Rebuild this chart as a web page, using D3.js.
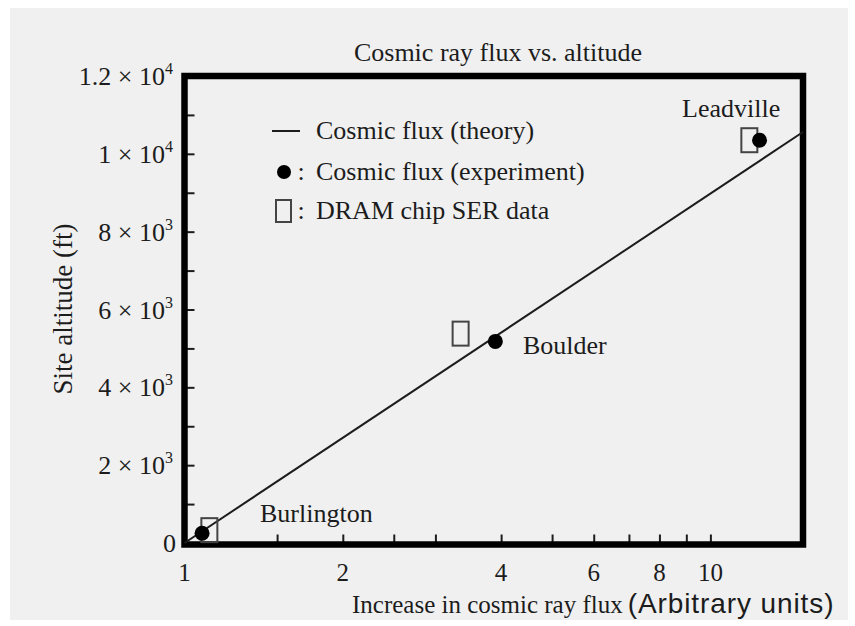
<!DOCTYPE html>
<html><head><meta charset="utf-8">
<script src="https://cdn.jsdelivr.net/npm/d3@7"></script>
<style>
body{margin:0;background:#fff;}
svg text{fill:#1c1c1c;}
</style></head>
<body><svg id="c" width="855" height="626"></svg>
<script>
// ---- data ----
const title = "Cosmic ray flux vs. altitude";
const sites = ["Burlington", "Boulder", "Leadville"];
const fluxExperiment = [1.08, 3.90, 12.4];      // filled circles (x)
const altExperiment  = [250, 5180, 10350];      // filled circles (y, ft)
const fluxDram = [1.115, 3.35, 11.86];           // open rectangles (x)
const altDram  = [330, 5380, 10350];             // open rectangles (y, ft)
const theoryFlux = [1, 15];
const theoryAlt  = [0, 10560];
const xTickValues = [1.5, 2, 2.5, 3, 4, 5, 6, 7, 8, 9, 10];
const xLabelValues = [1, 2, 4, 6, 8, 10];
const yTickValues = [1000,2000,3000,4000,5000,6000,7000,8000,9000,10000,11000];
const yLabelValues = [0, 2000, 4000, 6000, 8000, 10000, 12000];
const yLabelMantissa = ["0", "2", "4", "6", "8", "1", "1.2"];
const yLabelExponent = ["", "3", "3", "3", "3", "4", "4"];
const legendLabels = ["Cosmic flux (theory)", "Cosmic flux (experiment)", "DRAM chip SER data"];

// ---- layout ----
const svg = d3.select("#c");
const L = 184.5, R = 803, T = 76, B = 544.5;
const x = d3.scaleLog().domain([1, 15]).range([L, R]);
const y = d3.scaleLinear().domain([0, 12000]).range([543, T]);
const serif = "'Liberation Serif','Times New Roman',serif";
const sans = "'Liberation Sans',Arial,sans-serif";
const ink = "#1c1c1c";

svg.append("rect").attr("x", 10).attr("y", 8).attr("width", 838).attr("height", 612).attr("fill", "#f0f0f0");

// title
svg.append("text").attr("x", 498).attr("y", 61).attr("text-anchor", "middle")
  .style("font-family", serif).style("font-size", "26px").text(title);

// axes ticks (inward)
const xAxis = d3.axisBottom(x).tickValues(xTickValues).tickSize(-10).tickFormat("");
const gx = svg.append("g").attr("transform", `translate(0,${B})`).call(xAxis);
gx.select(".domain").remove();
gx.selectAll("line").attr("stroke", ink).attr("stroke-width", 2);

const yAxis = d3.axisLeft(y).tickValues(yTickValues).tickSize(-10).tickFormat("");
const gy = svg.append("g").attr("transform", `translate(${L},0)`).call(yAxis);
gy.select(".domain").remove();
gy.selectAll("line").attr("stroke", ink).attr("stroke-width", 2);

// frame
svg.append("rect").attr("x", L).attr("y", T).attr("width", R - L).attr("height", B - T)
  .attr("fill", "none").attr("stroke", "#000").attr("stroke-width", 6.5);

// x tick labels
svg.append("g").selectAll("text").data(xLabelValues).join("text")
  .attr("x", d => x(d)).attr("y", 581).attr("text-anchor", "middle")
  .style("font-family", serif).style("font-size", "25px").text(d => d);

// y tick labels
const yl = svg.append("g").selectAll("text").data(yLabelValues).join("text")
  .attr("x", 173).attr("y", d => y(d) + 9).attr("text-anchor", "end")
  .style("font-family", serif).style("font-size", "26px");
yl.each(function(d, i) {
  const t = d3.select(this);
  if (yLabelExponent[i] === "") { t.attr("x", 176).text(yLabelMantissa[i]); return; }
  t.append("tspan").text(yLabelMantissa[i] + " \u00d7 10");
  t.append("tspan").attr("dy", -11).style("font-size", "16px").text(yLabelExponent[i]);
});

// axis titles
svg.append("text").attr("transform", "translate(72,309) rotate(-90)").attr("text-anchor", "middle")
  .style("font-family", serif).style("font-size", "27px").text("Site altitude (ft)");
const xt = svg.append("text").attr("x", 352).attr("y", 613);
xt.append("tspan").style("font-family", serif).style("font-size", "25px").text("Increase in cosmic ray flux");
xt.append("tspan").style("font-family", sans).style("font-size", "28px").style("letter-spacing", "0.9px")
  .attr("dx", 5).text("(Arbitrary units)");

// theory line
const line = d3.line().x(d => x(d[0])).y(d => y(d[1]));
svg.append("path").datum(d3.zip(theoryFlux, theoryAlt)).attr("d", line)
  .attr("fill", "none").attr("stroke", ink).attr("stroke-width", 2);

// DRAM rectangles
svg.append("g").selectAll("rect").data(d3.zip(fluxDram, altDram)).join("rect")
  .attr("x", d => x(d[0]) - 8).attr("y", d => y(d[1]) - 12).attr("width", 16).attr("height", 24)
  .attr("fill", "none").attr("stroke", "#444").attr("stroke-width", 2);

// experiment circles
svg.append("g").selectAll("circle").data(d3.zip(fluxExperiment, altExperiment)).join("circle")
  .attr("cx", d => x(d[0])).attr("cy", d => y(d[1])).attr("r", 7.5).attr("fill", "#000");

// site labels
const labelPos = [[260, 522], [523, 354], [682, 117]];
svg.append("g").selectAll("text").data(sites).join("text")
  .attr("x", (d, i) => labelPos[i][0]).attr("y", (d, i) => labelPos[i][1])
  .style("font-family", serif).style("font-size", "26px").text(d => d);

// legend
const lg = svg.append("g");
const rowY = [131, 172, 211];
lg.append("line").attr("x1", 272).attr("x2", 300).attr("y1", rowY[0]).attr("y2", rowY[0])
  .attr("stroke", ink).attr("stroke-width", 2);
lg.append("circle").attr("cx", 284).attr("cy", rowY[1]).attr("r", 7).attr("fill", "#000");
lg.append("rect").attr("x", 276).attr("y", rowY[2] - 11).attr("width", 15).attr("height", 22)
  .attr("fill", "none").attr("stroke", "#444").attr("stroke-width", 2);
lg.selectAll("text.colon").data([1, 2]).join("text").attr("class", "colon")
  .attr("x", 301).attr("y", d => rowY[d] + 8).attr("text-anchor", "middle")
  .style("font-family", serif).style("font-size", "26px").text(":");
lg.selectAll("text.lab").data(legendLabels).join("text").attr("class", "lab")
  .attr("x", 316).attr("y", (d, i) => rowY[i] + 8)
  .style("font-family", serif).style("font-size", "26px").text(d => d);
</script></body></html>
